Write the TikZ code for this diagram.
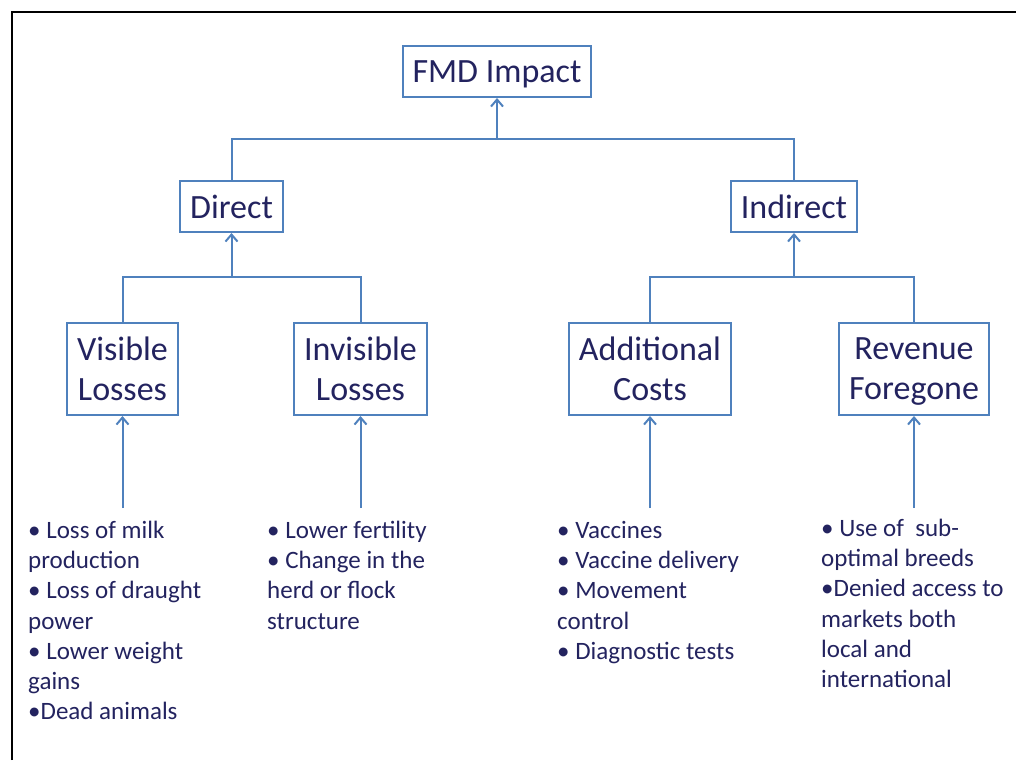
\documentclass[tikz,border=0pt]{standalone}
\usepackage{fontspec}
\setmainfont{Carlito}
\usepackage{tikz}
\usetikzlibrary{arrows.meta}
\definecolor{lineblue}{HTML}{4F81BD}
\definecolor{textnavy}{HTML}{23235F}
\tikzstyle{box} = [draw=lineblue, line width=2pt, inner sep=0pt, align=center, text depth=0pt, text=textnavy, font=\fontsize{34}{40}\selectfont]
\tikzstyle{list} = [anchor=north west, inner sep=0pt, align=left, text=textnavy, font=\fontsize{25}{30.2}\selectfont]
\tikzstyle{link} = [draw=lineblue, line width=2pt]
\tikzstyle{up} = [link, -{Straight Barb[length=7pt,width=12pt,line width=2pt]}]

\begin{document}
\begin{tikzpicture}[x=1pt,y=-1pt]
			\useasboundingbox (0,0) rectangle (1016,760);
			\draw[line width=1.5pt] (12,760) -- (12,12) -- (1016,12);
			% boxes
			\node[box, minimum width=188pt, minimum height=51pt] (fmd) at (497,71.5) {FMD Impact};
			\node[box, minimum width=103pt, minimum height=51pt] (direct) at (231.5,206.5) {Direct};
			\node[box, minimum width=126pt, minimum height=51pt] (indirect) at (794,206.5) {Indirect};
			\node[box, minimum width=111pt, minimum height=92pt] (visible) at (122.5,369) {Visible\\Losses};
			\node[box, minimum width=133pt, minimum height=92pt] (invisible) at (360.5,369) {Invisible\\Losses};
			\node[box, minimum width=162pt, minimum height=92pt] (additional) at (650,369) {Additional\\Costs};
			\node[box, minimum width=150pt, minimum height=92pt] (revenue) at (914,369) {Revenue\\Foregone};
			% lists
			\node[list] (vislist) at (28,521) {• Loss of milk\\production\\• Loss of draught\\power\\• Lower weight\\gains\\•Dead animals};
			\node[list] (invlist) at (267,521) {• Lower fertility\\• Change in the\\herd or flock\\structure};
			\node[list] (addlist) at (557,521) {• Vaccines\\• Vaccine delivery\\• Movement\\control\\• Diagnostic tests};
			\node[list] (revlist) at (821,519) {• Use of~ sub-\\optimal breeds\\•Denied access to\\markets both\\local and\\international};
			% junctions
			\coordinate (jtop) at (497,139);
			\coordinate (jdir) at (231.5,277);
			\coordinate (jind) at (794,277);
			\coordinate (v0) at (122.5,508);
			\coordinate (i0) at (360.5,508);
			\coordinate (a0) at (650,508);
			\coordinate (r0) at (914,508);
			\draw[link] (direct.north) |- (jtop) -| (indirect.north);
			\draw[up] (jtop) -- (fmd);
			\draw[link] (visible.north) |- (jdir) -| (invisible.north);
			\draw[up] (jdir) -- (direct);
			\draw[link] (additional.north) |- (jind) -| (revenue.north);
			\draw[up] (jind) -- (indirect);
			\draw[up] (v0) -- (visible);
			\draw[up] (i0) -- (invisible);
			\draw[up] (a0) -- (additional);
			\draw[up] (r0) -- (revenue);
		\end{tikzpicture}
\end{document}
